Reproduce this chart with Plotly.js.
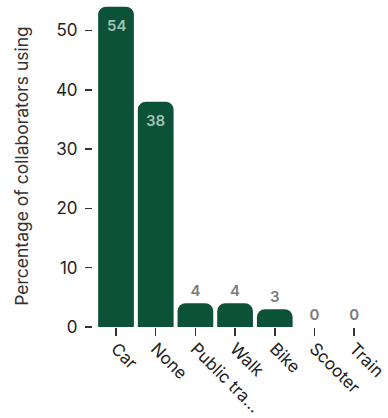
<!DOCTYPE html>
<html>
<head>
<meta charset="utf-8">
<script src="https://cdn.plot.ly/plotly-3.0.1.min.js"></script>
<style>
  html, body { margin: 0; padding: 0; background: #fff; }
  #chart { width: 388px; height: 418px; }
</style>
</head>
<body>
<div id="chart"></div>
<script>
// Commute modes and share of collaborators using each
const modes = ["Car", "None", "Public tra...", "Walk", "Bike", "Scooter", "Train"];
const shares = [54, 38, 4, 4, 3, 0, 0];
const yTicks = [0, 10, 20, 30, 40, 50];

const barColor = "#0b5239";
const insideText = "#a3c2b4";
const outsideText = "#7b7b7b";
const labelFont = "Inter, sans-serif";

// Tall bars carry their value inside near the top, short ones above the bar
const isTall = shares.map(v => v >= 10);

const trace = {
  type: "bar",
  x: modes,
  y: shares,
  text: shares.map((v, i) => isTall[i] ? "" : String(v)),
  textposition: "outside",
  textfont: { family: labelFont, size: 15, color: outsideText, weight: 600 },
  constraintext: "none",
  cliponaxis: false,
  marker: { color: barColor, cornerradius: 8, line: { width: 0 } },
  hoverinfo: "skip"
};

const insideLabels = modes
  .map((m, i) => ({ m, v: shares[i], tall: isTall[i] }))
  .filter(d => d.tall)
  .map(d => ({
    x: d.m,
    y: d.v,
    xref: "x",
    yref: "y",
    text: String(d.v),
    showarrow: false,
    yanchor: "top",
    yshift: -7,
    font: { family: labelFont, size: 15, color: insideText, weight: 600 }
  }));

const layout = {
  width: 388,
  height: 418,
  margin: { l: 93, r: 14, t: 5, b: 91 },
  paper_bgcolor: "#ffffff",
  plot_bgcolor: "#ffffff",
  bargap: 0.1,
  showlegend: false,
  font: { family: labelFont, size: 16, color: "#222" },
  annotations: insideLabels,
  xaxis: {
    type: "category",
    range: [-0.58, 6.5],
    tickangle: 45,
    ticks: "outside",
    ticklen: 8,
    tickwidth: 1.5,
    tickcolor: "#333",
    ticklabelstandoff: -4,
    showline: false,
    showgrid: false,
    zeroline: false,
    tickfont: { size: 17, color: "#222" },
    fixedrange: true
  },
  yaxis: {
    range: [0, 54.3],
    tickvals: yTicks,
    ticktext: yTicks.map(String),
    ticks: "outside",
    ticklen: 7,
    tickwidth: 1.5,
    tickcolor: "#333",
    ticklabelstandoff: 4,
    showline: false,
    showgrid: false,
    zeroline: false,
    tickfont: { size: 17, color: "#222" },
    title: {
      text: "Percentage of collaborators using",
      font: { size: 17.5, color: "#333" },
      standoff: 22
    },
    fixedrange: true
  }
};

Plotly.newPlot("chart", [trace], layout, { displayModeBar: false, staticPlot: true });
</script>
</body>
</html>
